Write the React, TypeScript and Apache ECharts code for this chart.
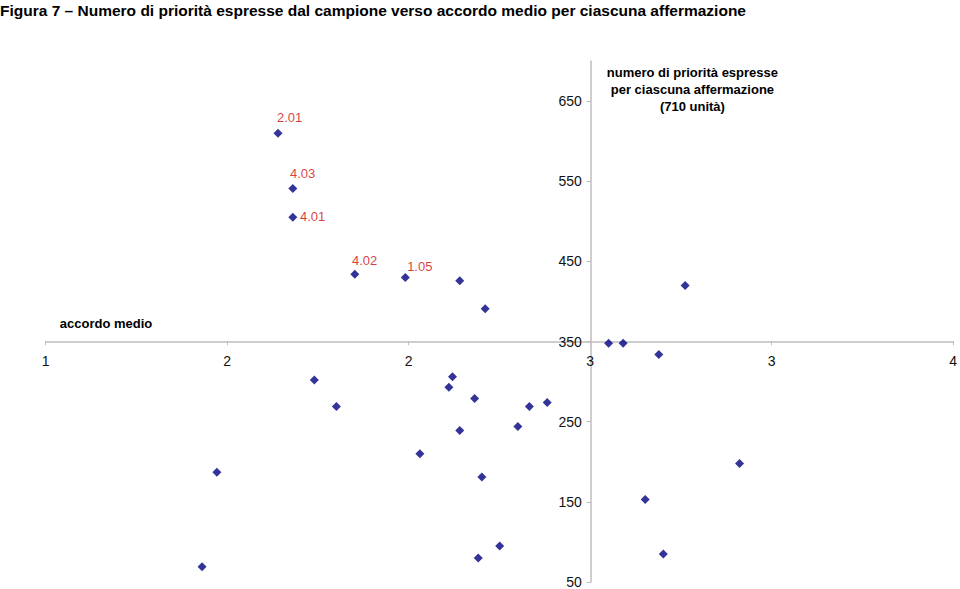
import React, { useEffect, useRef } from "react";
import * as echarts from "echarts";

const titleText =
  "Figura 7 – Numero di priorità espresse dal campione verso accordo medio per ciascuna affermazione";
const xName = "accordo medio";
const yName = "numero di priorità espresse\nper ciascuna affermazione\n(710 unità)";

// accordo medio (x) and numero di priorità (y)
const accordo = [
  1.768, 1.817, 1.817, 2.022, 2.189, 2.369, 2.453, 2.861, 2.909, 3.027,
  3.114, 1.888, 1.961, 1.566, 1.517, 2.345, 2.333, 2.418, 2.599, 2.658,
  2.369, 2.561, 2.237, 2.442, 2.501, 2.43, 3.294, 2.982, 3.042,
];
const priorita = [
  610, 541, 505, 434, 430, 426, 391, 348, 348, 334,
  420, 302, 269, 187, 69, 306, 293, 279, 269, 274,
  239, 244, 210, 181, 95, 80, 198, 153, 85,
];
const etichette = [
  "2.01", "4.03", "4.01", "4.02", "1.05", "", "", "", "", "",
  "", "", "", "", "", "", "", "", "", "",
  "", "", "", "", "", "", "", "", "",
];

const xTicks = { min: 1, max: 4, interval: 0.6 };
const yTicks = { min: 50, max: 700, interval: 100 };
const xCross = 2.8; // value of x where the y axis crosses
const yCross = 350; // value of y where the x axis crosses

// label offsets relative to the symbol box
const labelPos: Record<string, [number, number]> = {
  "2.01": [3.4, -11.6],
  "4.03": [1.7, -10.4],
  "4.01": [11.7, 3.6],
  "4.02": [1.7, -9.6],
  "1.05": [6.3, -6.7],
};

export default function App() {
  const ref = useRef<HTMLDivElement>(null);
  useEffect(() => {
    if (!ref.current) return;
    const chart = echarts.init(ref.current, undefined, { renderer: "svg" });
    const W = 960;
    const H = 589;
    const grid = { left: 45.7, right: 5.7, top: 61.1, bottom: 6.3 };
    const gw = W - grid.left - grid.right;
    const gh = H - grid.top - grid.bottom;
    const xOff = -((yCross - yTicks.min) / (yTicks.max - yTicks.min)) * gh;
    const yOff = -((xCross - xTicks.min) / (xTicks.max - xTicks.min)) * gw;

    const data = accordo.map((x, i) => {
      const lab = etichette[i];
      const item: any = { value: [x, priorita[i]] };
      if (lab) {
        item.label = {
          show: true,
          formatter: lab,
          position: labelPos[lab],
          align: "left",
          verticalAlign: "middle",
          color: "#cc0a0a",
          fontSize: 13,
          fontFamily: "Liberation Sans, Arial, sans-serif",
        };
      }
      return item;
    });

    chart.setOption({
      animation: false,
      backgroundColor: "#ffffff",
      grid: { ...grid, containLabel: false },
      xAxis: {
        type: "value",
        min: xTicks.min,
        max: xTicks.max,
        interval: xTicks.interval,
        offset: xOff,
        axisLine: { onZero: false, lineStyle: { color: "#bdbdbd", width: 1.5 } },
        axisTick: { show: true, length: 4, lineStyle: { color: "#bdbdbd" } },
        splitLine: { show: false },
        axisLabel: {
          margin: 13,
          color: "#111",
          fontSize: 14,
          fontFamily: "Liberation Sans, Arial, sans-serif",
          formatter: (v: number) => String(Math.round(v)),
        },
      },
      yAxis: {
        type: "value",
        min: yTicks.min,
        max: yTicks.max,
        interval: yTicks.interval,
        offset: yOff,
        axisLine: { show: true, onZero: false, lineStyle: { color: "#bdbdbd", width: 1.5 } },
        axisTick: { show: true, length: 4, lineStyle: { color: "#bdbdbd" } },
        splitLine: { show: false },
        axisLabel: {
          margin: 9,
          color: "#111",
          fontSize: 14,
          fontFamily: "Liberation Sans, Arial, sans-serif",
          showMaxLabel: false,
          formatter: (v: number) => (v === yTicks.max ? "" : String(v)),
        },
      },
      graphic: [
        {
          type: "text",
          left: 0,
          top: 2,
          style: {
            text: titleText,
            fontSize: 15.5,
            fontWeight: "bold",
            fontFamily: "Liberation Sans Narrow, Arial Narrow, sans-serif",
            fill: "#000",
          },
        },
        {
          type: "text",
          x: 106,
          y: 323,
          style: {
            text: xName,
            fontSize: 13,
            fontWeight: "bold",
            fontFamily: "Liberation Sans, Arial, sans-serif",
            fill: "#000",
            align: "center",
            verticalAlign: "middle",
          },
        },
        {
          type: "text",
          x: 692.4,
          y: 64,
          style: {
            text: yName,
            fontSize: 13,
            lineHeight: 17,
            fontWeight: "bold",
            fontFamily: "Liberation Sans, Arial, sans-serif",
            fill: "#000",
            align: "center",
            verticalAlign: "top",
          },
        },
      ],
      series: [
        {
          type: "scatter",
          symbol: "diamond",
          symbolSize: 9,
          itemStyle: { color: "#000080" },
          data,
        },
      ],
    });
    return () => chart.dispose();
  }, []);
  return <div ref={ref} style={{ width: 960, height: 589, position: "fixed", left: 0, top: 0 }} />;
}
